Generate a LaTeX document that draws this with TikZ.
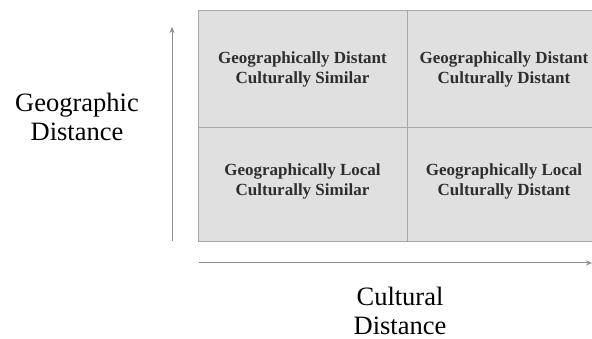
\documentclass[tikz,border=0pt]{standalone}
\usepackage{fontspec}
\setmainfont{Liberation Serif}
\usetikzlibrary{positioning,arrows.meta}

\definecolor{cellfill}{HTML}{E0E0E0}
\definecolor{cellline}{HTML}{A8A8A8}
\definecolor{axisgray}{HTML}{8C8C8C}
\definecolor{celltext}{HTML}{2E2E2E}

\tikzset{
  cell/.style={draw=cellline,fill=cellfill,line width=1pt,outer sep=0pt,inner sep=0pt,
    minimum width=209pt,minimum height=117pt,align=center,text=celltext,
    font=\bfseries\fontsize{17}{20}\selectfont},
  narrowcell/.style={cell,minimum width=194pt},
  lowrow/.style={minimum height=114pt,text depth=10pt},
  axis/.style={draw=axisgray,line width=1pt,-{Stealth[length=6pt,width=5pt]}},
  axislabel/.style={align=center,font=\fontsize{26.5}{29}\selectfont}
}

\begin{document}
\begin{tikzpicture}[x=1pt,y=-1pt]
  \useasboundingbox (0,0) rectangle (592,339);
  \clip (0,0) rectangle (592,339);
  % quadrants
  \node[cell] (gdcs) at (302.5,69) {Geographically Distant\\Culturally Similar};
  \node[narrowcell,right=0pt of gdcs] (gdcd) {Geographically Distant\\Culturally Distant};
  \node[cell,lowrow,below=0pt of gdcs] (glcs) {Geographically Local\\Culturally Similar};
  \node[narrowcell,lowrow,right=0pt of glcs] (glcd) {Geographically Local\\Culturally Distant};
  % axes
  \coordinate (gtail) at (172,241);
  \coordinate (ghead) at (172,27);
  \coordinate (ctail) at (199,263);
  \coordinate (chead) at (592,263);
  \draw[axis] (gtail) -- (ghead);
  \draw[axis] (ctail) -- (chead);
  \node[axislabel] (geo) at (77,117) {Geographic\\Distance};
  \node[axislabel] (cul) at (400,311) {Cultural\\Distance};
\end{tikzpicture}
\end{document}
